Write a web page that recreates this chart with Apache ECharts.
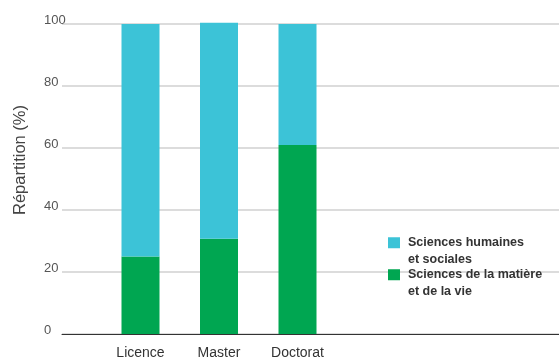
<!DOCTYPE html>
<html>
<head>
<meta charset="utf-8">
<script src="https://cdn.jsdelivr.net/npm/echarts@6/dist/echarts.min.js"></script>
<style>
  html, body { margin: 0; padding: 0; background: #fff; }
  #chart { width: 559px; height: 360px; }
</style>
</head>
<body>
<div id="chart"></div>
<script>
// Study levels and the share of students in each field (%)
const levels = ['Licence', 'Master', 'Doctorat'];
const sciencesMatiereVie = [25, 30.7, 61];
const sciencesHumaines = [75, 69.7, 39];
const seriesNames = ['Sciences humaines\net sociales', 'Sciences de la matière\net de la vie'];
const yTicks = { min: 0, max: 100, step: 20 };

const FONT = '"Liberation Sans", Arial, sans-serif';
const CYAN = '#3cc3d7';
const GREEN = '#00a651';

const chart = echarts.init(document.getElementById('chart'), null, { renderer: 'canvas' });

// Legend labels: a leading blank line keeps the first text line level with the swatch
const legendText = {
  fontFamily: FONT,
  fontSize: 12.5,
  fontWeight: 'bold',
  color: '#333',
  lineHeight: 16.5,
  padding: [0, 0, 0, 3]
};
const legendBase = {
  itemWidth: 12,
  itemHeight: 11,
  icon: 'rect',
  selectedMode: false,
  formatter: name => '\n' + name,
  textStyle: legendText
};

chart.setOption({
  animation: false,
  backgroundColor: '#fff',
  grid: [
    // full-width frame: gridlines, value labels, baseline
    { left: 62, right: 0, top: 24, bottom: 26 },
    // plotting band for the three levels
    { left: 101.25, width: 235.5, top: 24, bottom: 26 }
  ],
  xAxis: [
    {
      gridIndex: 0,
      type: 'value',
      min: 0,
      max: 1,
      splitLine: { show: false },
      axisTick: { show: false },
      axisLabel: { show: false },
      axisLine: { show: true, onZero: false, lineStyle: { color: '#333', width: 1 } }
    },
    {
      gridIndex: 1,
      type: 'category',
      data: levels,
      axisLine: { show: false },
      axisTick: { show: false },
      axisLabel: {
        margin: 12,
        fontFamily: FONT,
        fontSize: 14,
        color: '#333'
      }
    }
  ],
  yAxis: [
    {
      gridIndex: 0,
      type: 'value',
      min: yTicks.min,
      max: yTicks.max,
      interval: yTicks.step,
      name: 'Répartition (%)',
      nameLocation: 'middle',
      nameGap: 33,
      nameTextStyle: { fontFamily: FONT, fontSize: 16.5, color: '#444', padding: [0, 0, 0, 38] },
      axisLine: { show: false },
      axisTick: { show: false },
      splitLine: { lineStyle: { color: '#d0d0d0', width: 1.5 } },
      axisLabel: {
        align: 'left',
        verticalAlign: 'bottom',
        margin: 18,
        padding: [0, 0, -3, 0],
        fontFamily: FONT,
        fontSize: 13,
        color: '#555'
      }
    },
    {
      gridIndex: 1,
      type: 'value',
      min: yTicks.min,
      max: yTicks.max,
      show: false,
      splitLine: { show: false }
    }
  ],
  legend: [
    Object.assign({ data: [seriesNames[0]], left: 383, top: 213 }, legendBase),
    Object.assign({ data: [seriesNames[1]], left: 383, top: 245 }, legendBase)
  ],
  series: [
    {
      name: seriesNames[1],
      type: 'bar',
      xAxisIndex: 1,
      yAxisIndex: 1,
      stack: 'total',
      barWidth: 38,
      clip: false,
      itemStyle: { color: GREEN },
      data: sciencesMatiereVie
    },
    {
      name: seriesNames[0],
      type: 'bar',
      xAxisIndex: 1,
      yAxisIndex: 1,
      stack: 'total',
      barWidth: 38,
      clip: false,
      itemStyle: { color: CYAN },
      data: sciencesHumaines
    }
  ]
});
</script>
</body>
</html>
